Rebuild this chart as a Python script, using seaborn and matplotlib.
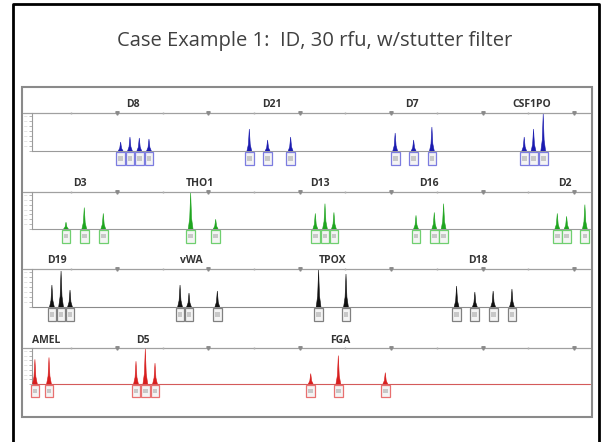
import matplotlib.pyplot as plt
import seaborn as sns
from matplotlib.patches import Rectangle
from matplotlib.lines import Line2D

# electropherogram data: fragment size (bp) and height (rfu) per allele peak
title = "Case Example 1:  ID, 30 rfu, w/stutter filter"

blue_markers = ["D8", "D21", "D7", "CSF1PO"]
blue_label_bp = [108.8, 184.6, 261.2, 326.8]
blue_bp = [[102.0, 107.1, 112.2, 117.5], [172.4, 182.4, 195.0], [252.2, 262.3, 272.3], [322.8, 327.9, 333.2]]
blue_rfu = [[450, 700, 650, 600], [1100, 550, 700], [900, 550, 1200], [700, 1100, 1850]]

green_markers = ["D3", "THO1", "D13", "D16", "D2"]
green_label_bp = [79.8, 145.4, 211.0, 270.7, 345.1]
green_bp = [[72.1, 82.1, 92.5], [140.3, 154.0], [208.5, 213.8, 218.7], [263.6, 273.6, 278.7], [340.9, 346.0, 356.0]]
green_rfu = [[350, 1100, 800], [1850, 500], [800, 1300, 850], [700, 850, 1300], [800, 650, 1250]]

black_markers = ["D19", "vWA", "TPOX", "D18"]
black_label_bp = [67.3, 140.9, 218.0, 297.6]
black_bp = [[64.4, 69.4, 74.3], [134.5, 139.4, 154.9], [210.3, 225.3], [285.8, 295.8, 305.8, 316.1]]
black_rfu = [[1100, 1800, 850], [1100, 700, 800], [1850, 1650], [1050, 750, 800, 900]]

red_markers = ["AMEL", "D5", "FGA"]
red_label_bp = [61.5, 114.4, 222.0]
red_bp = [[55.1, 62.8], [110.4, 115.5, 120.8], [206.0, 221.1, 246.8]]
red_rfu = [[1300, 1400], [1200, 1850, 1100], [550, 1500, 600]]

size_marks = [100, 150, 200, 250, 300, 350]

sns.set_theme(style="white")
plt.rcParams['font.family'] = ['Open Sans', 'DejaVu Sans']

W, H = 602, 442
fig = plt.figure(figsize=(W / 100, H / 100), dpi=100)

def fx(px):
    return px / W

def fy(py):
    return 1 - py / H

# slide frame and picture frame
fig.add_artist(Line2D([fx(13), fx(13), fx(599), fx(599)], [0, fy(4), fy(4), 0], color="black", lw=2))
fig.add_artist(Rectangle((fx(22), fy(417)), fx(592) - fx(22), fy(87) - fy(417), fill=False,
                         edgecolor="#8a8a8a", lw=1.5))
fig.text(fx(315), fy(41), title, ha="center", va="center", fontsize=14.5, color="#404040")

rows = [
    (blue_markers, blue_label_bp, blue_bp, blue_rfu, "#1b1bb0", "#7c7ce0", "#9a9a9a", 113, 151),
    (green_markers, green_label_bp, green_bp, green_rfu, "#1fa51f", "#6fcf6f", "#9a9a9a", 192, 229),
    (black_markers, black_label_bp, black_bp, black_rfu, "#111111", "#808080", "#8a8a8a", 269, 307),
    (red_markers, red_label_bp, red_bp, red_rfu, "#d81e1e", "#e87070", "#d45a5a", 348, 384),
]

x0, x1 = 53.5, 358.8
top = 1900
for markers, label_bp, bps, rfus, col, boxcol, basecol, ruler_y, base_y in rows:
    ax = fig.add_axes([fx(32), fy(base_y), fx(590) - fx(32), fy(ruler_y) - fy(base_y)])
    ax.set_xlim(x0, x1)
    ax.set_ylim(0, top)
    for s in ["top", "right", "bottom"]:
        ax.spines[s].set_visible(False)
    ax.spines["left"].set_color("#9a9a9a")
    ax.spines["left"].set_linewidth(0.8)
    ax.set_xticks([])
    ax.set_yticks(range(0, 2000, 250))
    ax.set_yticklabels(["—" if v else "" for v in range(0, 2000, 250)], fontsize=2.5, color="#999999")
    ax.tick_params(axis="y", length=2, width=0.5, color="#9a9a9a", pad=1, left=True)

    # ruler at the top with size marks
    ax.plot([48.6, x1], [top, top], color="#a0a0a0", lw=0.9, clip_on=False)
    ax.plot(size_marks, [top] * len(size_marks), ls="none", marker="v", ms=2.5, color="#8a8a8a", clip_on=False)
    minor = [m + 25 for m in size_marks[:-1]] + [75]
    ax.plot(minor, [top] * len(minor), ls="none", marker="|", ms=2, color="#b0b0b0", clip_on=False)
    # baseline
    ax.plot([x0, x1], [0, 0], color=basecol, lw=0.8, clip_on=False)

    for name, lb, pos, hts in zip(markers, label_bp, bps, rfus):
        ax.text(lb, top + 130, name, ha="center", va="bottom", fontsize=7.5, fontweight="bold",
                color="#333333", clip_on=False)
        for c, h in zip(pos, hts):
            ax.fill([c - 1.3, c - 0.5, c, c + 0.5, c + 1.3], [0, 0.3 * h, h, 0.3 * h, 0],
                    color=col, lw=0.4, zorder=3)
            ax.add_patch(Rectangle((c - 2.4, -700), 4.8, 650, facecolor="#f4f4f4", edgecolor=boxcol,
                                   lw=0.9, clip_on=False, zorder=4))
            ax.add_patch(Rectangle((c - 1.3, -480), 2.6, 240, facecolor="#c8c8c8", edgecolor="none",
                                   clip_on=False, zorder=5))

fig.savefig("out.png", dpi=100)
